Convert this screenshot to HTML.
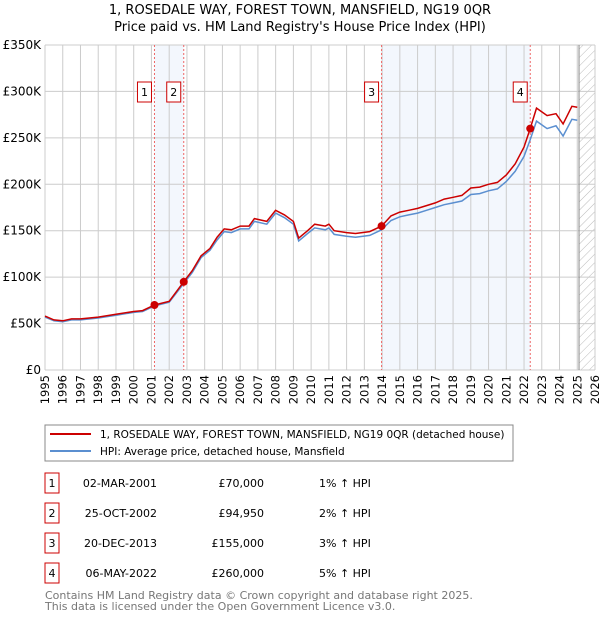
<!DOCTYPE html>
<html><head><meta charset="utf-8"><style>
body{margin:0;background:#fff;font-family:"Liberation Sans","DejaVu Sans",sans-serif;}
svg text{font-family:"DejaVu Sans","Liberation Sans",sans-serif;}
</style></head><body>
<svg id="c" width="600" height="620" xmlns="http://www.w3.org/2000/svg">
<defs><pattern id="hatch" width="6" height="6" patternUnits="userSpaceOnUse" patternTransform="rotate(45)"><line x1="0" y1="0" x2="0" y2="6" stroke="#bbb" stroke-width="1"/></pattern></defs>
<text x="300" y="14" text-anchor="middle" font-size="13">1, ROSEDALE WAY, FOREST TOWN, MANSFIELD, NG19 0QR</text>
<text x="300" y="31" text-anchor="middle" font-size="13">Price paid vs. HM Land Registry's House Price Index (HPI)</text>
<g id="plot"></g>
<rect x="45" y="425" width="468" height="36" fill="#fff" stroke="#888"/>
<line x1="50" y1="434" x2="91" y2="434" stroke="#cc0000" stroke-width="2"/>
<text x="100" y="438" font-size="10.5">1, ROSEDALE WAY, FOREST TOWN, MANSFIELD, NG19 0QR (detached house)</text>
<line x1="50" y1="451" x2="91" y2="451" stroke="#5b8fd0" stroke-width="2"/>
<text x="100" y="455" font-size="10.5">HPI: Average price, detached house, Mansfield</text>
<g id="table" font-size="11"></g>
<text x="45" y="599" font-size="11" fill="#777">Contains HM Land Registry data © Crown copyright and database right 2025.</text>
<text x="45" y="610" font-size="11" fill="#777">This data is licensed under the Open Government Licence v3.0.</text>
</svg>
<script>
const years=[1995,1995.5,1996,1996.5,1997,1998,1999,2000,2000.5,2001.17,2002,2002.82,2003.3,2003.8,2004.3,2004.7,2005.1,2005.5,2006,2006.5,2006.8,2007.5,2008,2008.5,2009,2009.3,2009.8,2010.2,2010.8,2011,2011.3,2012,2012.5,2013.3,2013.97,2014.5,2015,2015.5,2016,2016.5,2017,2017.5,2018,2018.5,2019,2019.5,2020,2020.5,2021,2021.5,2022,2022.35,2022.7,2023.3,2023.8,2024.2,2024.7,2025.0];
const priceSeries=[58,54,53,55,55,57,60,63,64,70,74,95,107,123,131,143,152,151,155,155,163,160,172,167,160,142,150,157,155,157,150,148,147,149,155,166,170,172,174,177,180,184,186,188,196,197,200,202,210,222,240,260,282,274,276,265,284,283];
const hpiSeries=[57,53,52,54,54,56,59,62,63,69,73,93,105,121,129,140,149,148,152,152,160,157,169,164,157,139,147,153,151,153,146,144,143,145,151,161,165,167,169,172,175,178,180,182,189,190,193,195,203,214,230,248,268,260,263,252,270,269];
const sales=[{n:"1",t:2001.17,v:70,d:"02-MAR-2001",p:"£70,000",h:"1% ↑ HPI"},{n:"2",t:2002.82,v:94.95,d:"25-OCT-2002",p:"£94,950",h:"2% ↑ HPI"},{n:"3",t:2013.97,v:155,d:"20-DEC-2013",p:"£155,000",h:"3% ↑ HPI"},{n:"4",t:2022.35,v:260,d:"06-MAY-2022",p:"£260,000",h:"5% ↑ HPI"}];
const yTicks=[0,50,100,150,200,250,300,350];
const yLabels=["£0","£50K","£100K","£150K","£200K","£250K","£300K","£350K"];
const NS="http://www.w3.org/2000/svg";
const L=45,R=595,T=45,B=370;
const X=t=>L+(t-1995)/(2026-1995)*(R-L);
const Y=v=>B-v/350*(B-T);
const g=document.getElementById('plot');
function el(tag,attrs,parent){const e=document.createElementNS(NS,tag);for(const k in attrs)e.setAttribute(k,attrs[k]);(parent||g).appendChild(e);return e;}
let e;
e=el('rect',{x:X(sales[0].t),y:T,width:X(sales[1].t)-X(sales[0].t),height:B-T,fill:"#eef3fc",opacity:0.7});


e=el('rect',{x:X(sales[2].t),y:T,width:X(sales[3].t)-X(sales[2].t),height:B-T,fill:"#eef3fc",opacity:0.7});


e=el('rect',{x:X(2025.1),y:T,width:R-X(2025.1),height:B-T,fill:"url(#hatch)"});


for(let yr=1995;yr<=2026;yr++){
 e=el('line',{x1:X(yr),x2:X(yr),y1:T,y2:B,stroke:"#ccc","stroke-width":1});
 
 
 const tx=X(yr)+4,ty=B+5;
 e=el('text',{x:tx,y:ty,"font-size":11.5,"text-anchor":"end",transform:`rotate(-90 ${tx} ${ty})`});
 e.textContent=yr;
 
 
}
yTicks.forEach((v,i)=>{
 e=el('line',{x1:L,x2:R,y1:Y(v),y2:Y(v),stroke:"#ccc","stroke-width":1});
 
 
 e=el('text',{x:L-4,y:Y(v)+4,"font-size":12,"text-anchor":"end"});
 e.textContent=yLabels[i];
 
 
});
e=el('line',{x1:X(2025.1),x2:X(2025.1),y1:T,y2:B,stroke:"#888","stroke-width":1});


sales.forEach(s=>{
 e=el('line',{x1:X(s.t),x2:X(s.t),y1:T,y2:B,stroke:"#e66","stroke-width":1,"stroke-dasharray":"2,2"});
 
 
});
const pts=a=>years.map((t,i)=>X(t).toFixed(1)+","+Y(a[i]).toFixed(1)).join(" ");
e=el('polyline',{points:pts(hpiSeries),fill:"none",stroke:"#5b8fd0","stroke-width":1.5});


e=el('polyline',{points:pts(priceSeries),fill:"none",stroke:"#cc0000","stroke-width":1.5});


sales.forEach(s=>{
 e=el('circle',{cx:X(s.t),cy:Y(s.v),r:4,fill:"#cc0000"});
 
 
 e=el('rect',{x:X(s.t)-17,y:82,width:14,height:20,fill:"#fff",stroke:"#cc0000"});
 
 
 e=el('text',{x:X(s.t)-10,y:96,"font-size":11,"text-anchor":"middle"});
 e.textContent=s.n;
 
 
});
const tb=document.getElementById('table');
sales.forEach((s,i)=>{
 const y=473+i*30;
 e=el('rect',{x:45,y:y,width:14,height:20,fill:"#fff",stroke:"#cc0000"},tb);
 
 
 e=el('text',{x:52,y:y+14,"text-anchor":"middle"},tb);e.textContent=s.n;
 
 
 e=el('text',{x:157,y:y+14,"text-anchor":"end"},tb);e.textContent=s.d;
 
 
 e=el('text',{x:264,y:y+14,"text-anchor":"end"},tb);e.textContent=s.p;
 
 
 e=el('text',{x:319,y:y+14},tb);e.textContent=s.h;
 
 
});
</script>
</body></html>
